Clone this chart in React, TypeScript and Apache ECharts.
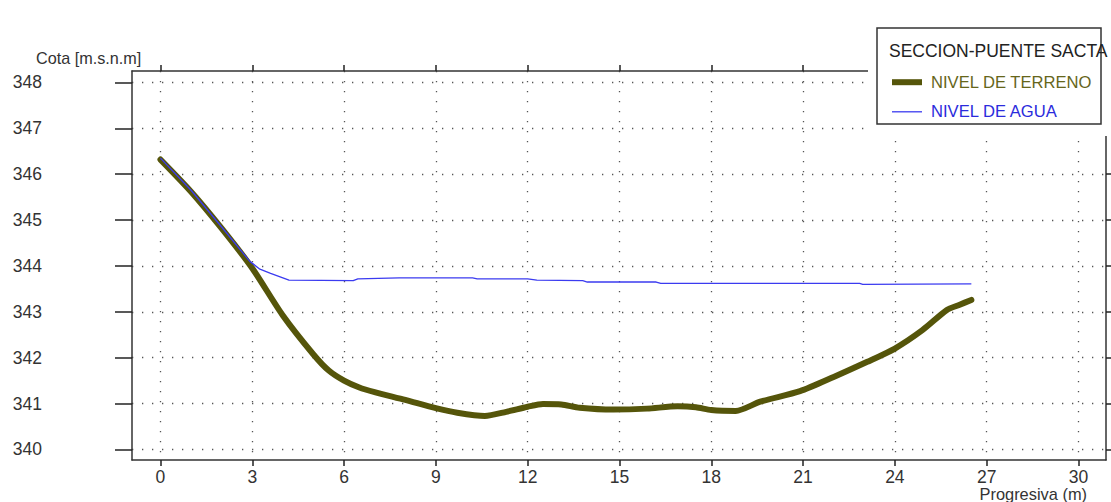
import React, { useEffect, useRef } from "react";
import * as echarts from "echarts";

const xTicks = [0, 3, 6, 9, 12, 15, 18, 21, 24, 27, 30];
const yTicks = [340, 341, 342, 343, 344, 345, 346, 347, 348];

const terrainX = [0, 1, 2, 3, 4, 5, 5.5, 6, 6.5, 7, 8, 9, 9.7, 10.6, 11.3, 12, 12.5, 13.1, 13.7, 14.8, 15.9, 16.9, 17.5, 18.0, 18.8, 19.6, 20.9, 22, 23.1, 24, 24.9, 25.7, 26.1, 26.5];
const terrainY = [346.32, 345.62, 344.82, 343.95, 342.92, 342.07, 341.72, 341.5, 341.35, 341.25, 341.08, 340.9, 340.8, 340.73, 340.82, 340.93, 340.99, 340.98, 340.91, 340.87, 340.89, 340.94, 340.92, 340.86, 340.84, 341.04, 341.27, 341.58, 341.91, 342.2, 342.6, 343.04, 343.15, 343.26];

const waterX = [0, 1, 2, 2.92, 3.25, 3.6, 4.2, 6.3, 6.45, 7.8, 10.2, 10.35, 12.0, 12.3, 13.8, 13.95, 16.2, 16.35, 22.85, 22.95, 26.5];
const waterY = [346.35, 345.65, 344.85, 344.1, 343.93, 343.84, 343.69, 343.68, 343.72, 343.74, 343.74, 343.72, 343.72, 343.69, 343.68, 343.65, 343.65, 343.62, 343.62, 343.6, 343.61];

const X_MIN = -0.93;
const X_MAX = 30.9;
const Y_MIN = 339.77;
const Y_MAX = 348.25;

const FONT = "'Liberation Sans', Arial, sans-serif";

export default function App() {
  const ref = useRef<HTMLDivElement>(null);
  useEffect(() => {
    if (!ref.current) return;
    const chart = echarts.init(ref.current, undefined, { renderer: "svg" });
    const terrain = terrainX.map((x, i) => [x, terrainY[i]]);
    const water = waterX.map((x, i) => [x, waterY[i]]);
    const dotted = { color: "#555", width: 1.3, type: [1.3, 8.7] as any };
    const axisLine = { show: true, onZero: false, lineStyle: { color: "#333", width: 1.5 } };
    const tickStyle = { color: "#222", width: 1.5 };
    chart.setOption({
      animation: false,
      backgroundColor: "#fff",
      textStyle: { fontFamily: FONT },
      grid: { left: 132, right: 5, top: 71, bottom: 42, containLabel: false },
      xAxis: [
        {
          type: "value",
          position: "bottom",
          min: X_MIN,
          max: X_MAX,
          axisLine,
          axisTick: { show: true, inside: false, length: 6, customValues: xTicks, lineStyle: tickStyle },
          axisLabel: { show: true, customValues: xTicks, margin: 10, fontSize: 17.5, lineHeight: 14, color: "#333", fontFamily: FONT },
          splitLine: { show: true, lineStyle: dotted },
        },
        {
          type: "value",
          position: "top",
          min: X_MIN,
          max: X_MAX,
          axisLine,
          axisTick: { show: true, inside: false, length: 6, customValues: xTicks, lineStyle: tickStyle },
          axisLabel: { show: false },
          splitLine: { show: false },
        },
      ],
      yAxis: [
        {
          type: "value",
          position: "left",
          min: Y_MIN,
          max: Y_MAX,
          axisLine,
          axisTick: { show: true, inside: false, length: 17, customValues: yTicks, lineStyle: tickStyle },
          axisLabel: { show: true, customValues: yTicks, margin: 90, fontSize: 17.5, color: "#333", fontFamily: FONT },
          splitLine: { show: true, lineStyle: dotted },
        },
        {
          type: "value",
          position: "right",
          min: Y_MIN,
          max: Y_MAX,
          axisLine,
          axisTick: { show: true, inside: false, length: 6, customValues: yTicks, lineStyle: tickStyle },
          axisLabel: { show: false },
          splitLine: { show: false },
        },
      ],
      legend: {
        orient: "vertical",
        left: 889,
        top: 73.7,
        padding: 0,
        itemWidth: 30,
        itemHeight: 14,
        itemGap: 12.6,
        z: 60,
        itemStyle: { opacity: 0 },
        textStyle: { fontSize: 16.6, lineHeight: 14, fontFamily: FONT, padding: [0, 0, 0, 4] },
        data: [
          { name: "NIVEL DE TERRENO", textStyle: { color: "#66661a" }, lineStyle: { width: 6, color: "#55550a", cap: "butt" } },
          { name: "NIVEL DE AGUA", textStyle: { color: "#2b2bdc" }, lineStyle: { width: 1.3, color: "#3b3bf0", cap: "butt" } },
        ],
      },
      graphic: [
        { type: "rect", z: 50, shape: { x: 868, y: 18, width: 243, height: 118 }, style: { fill: "#fff" } },
        { type: "rect", z: 51, shape: { x: 877, y: 28, width: 224, height: 96 }, style: { fill: "#fff", stroke: "#333", lineWidth: 1.5 } },
        { type: "text", z: 61, x: 889, y: 51, style: { text: "SECCION-PUENTE SACTA", fontSize: 17.5, fontFamily: FONT, fill: "#222", align: "left", verticalAlign: "middle" } },
        { type: "text", z: 61, x: 36, y: 58, style: { text: "Cota [m.s.n.m]", fontSize: 16.2, fontFamily: FONT, fill: "#333", align: "left", verticalAlign: "middle" } },
        { type: "text", z: 61, x: 1087, y: 494, style: { text: "Progresiva (m)", fontSize: 16.4, lineHeight: 14, fontFamily: FONT, fill: "#333", align: "right", verticalAlign: "middle" } },
      ],
      series: [
        {
          name: "NIVEL DE TERRENO",
          type: "line",
          data: terrain,
          symbol: "none",
          smooth: 0.25,
          z: 3,
          lineStyle: { color: "#55550a", width: 6, cap: "round", join: "round" },
          itemStyle: { color: "#55550a" },
        },
        {
          name: "NIVEL DE AGUA",
          type: "line",
          data: water,
          symbol: "none",
          z: 4,
          lineStyle: { color: "#3b3bf0", width: 1.3 },
          itemStyle: { color: "#3b3bf0" },
        },
      ],
    });
    return () => chart.dispose();
  }, []);
  return <div ref={ref} style={{ position: "fixed", left: 0, top: 0, width: 1111, height: 502 }} />;
}
